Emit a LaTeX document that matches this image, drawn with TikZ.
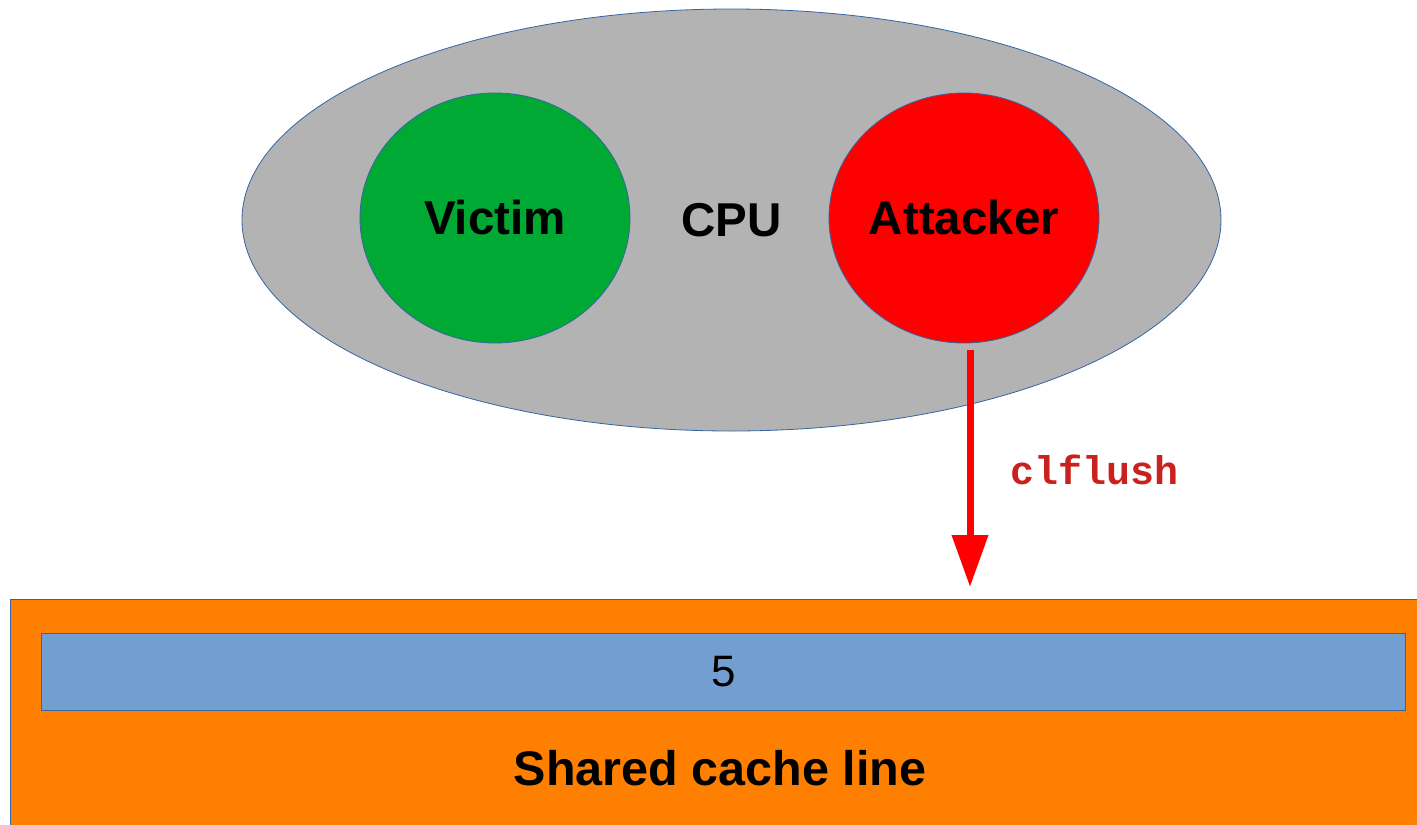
\documentclass[tikz,border=0pt]{standalone}
\usepackage{fontspec}
\setmainfont{Liberation Sans}
\setmonofont{Liberation Mono}
\usetikzlibrary{shapes.geometric,arrows.meta}
\definecolor{cpugray}{HTML}{B3B3B3}
\definecolor{vicgreen}{HTML}{00A933}
\definecolor{attred}{HTML}{FF0000}
\definecolor{cacheorange}{HTML}{FF8000}
\definecolor{lineblue}{HTML}{729FCF}
\definecolor{edgeblue}{HTML}{3465A4}
\definecolor{cmdred}{HTML}{C9211E}
\begin{document}
\begin{tikzpicture}[x=1pt,y=-1pt,
  blob/.style={ellipse, draw=edgeblue, line width=0.8pt, inner sep=0pt},
  bigtext/.style={font=\fontsize{47.5}{56}\selectfont\bfseries},
  boxed/.style={rectangle, draw=edgeblue, line width=0.8pt, inner sep=0pt, anchor=north west},
  flush/.style={draw=attred, line width=7pt, -{Triangle[width=35pt,length=52pt]}}
]
\useasboundingbox (0,0) rectangle (1417,825);
\node[blob, fill=cpugray, minimum width=979pt, minimum height=422pt, bigtext] (cpu) at (731.5,220) {CPU};
\node[blob, fill=vicgreen, minimum width=270pt, minimum height=250pt, bigtext] (vic) at (495,218) {Victim};
\node[blob, fill=attred, minimum width=270pt, minimum height=250pt, bigtext] (att) at (964,218) {Attacker};
\node[boxed, fill=cacheorange, minimum width=1430pt, minimum height=250pt] (cache) at (10,599) {};
\node[boxed, fill=lineblue, minimum width=1364pt, minimum height=77pt, font=\fontsize{44}{52}\selectfont] (line) at (41,633) {5};
\node[font=\fontsize{48.5}{56}\selectfont\bfseries] (cachelabel) at (720,768) {Shared cache line};
\coordinate (fs) at (970,350);
\coordinate (fe) at (970,587);
\draw[flush] (fs) -- (fe);
\node[font=\fontsize{40}{48}\selectfont\ttfamily\bfseries, text=cmdred] (cmd) at (1095,470) {clflush};
\end{tikzpicture}
\end{document}
